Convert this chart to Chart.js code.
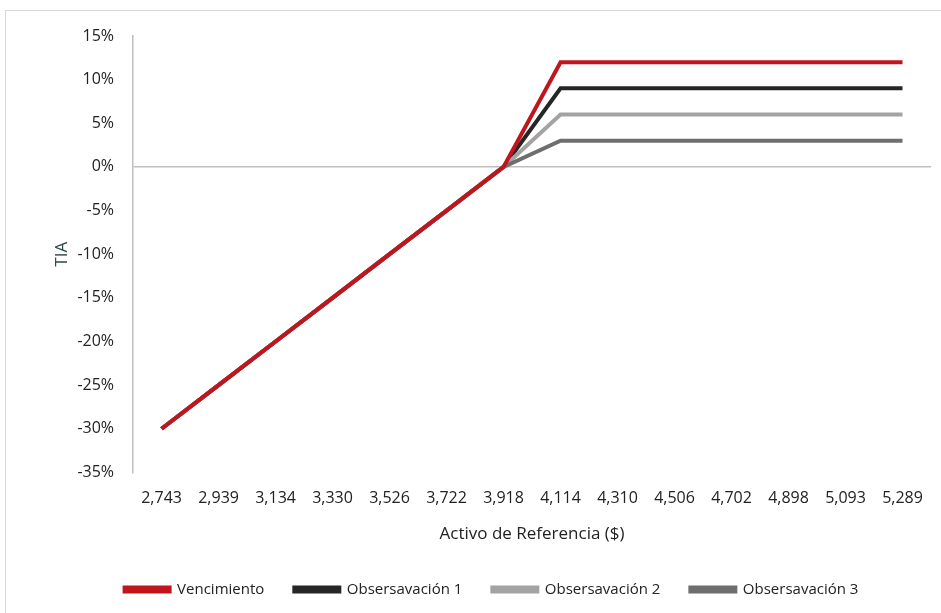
<!DOCTYPE html>
<html>
<head>
<meta charset="utf-8">
<script src="https://cdn.jsdelivr.net/npm/chart.js@4.4.0/dist/chart.umd.min.js"></script>
<style>
  html, body { margin: 0; padding: 0; background: #fff; }
  #wrap { position: relative; width: 941px; height: 613px; }
  #frame { position: absolute; left: 5px; top: 10px; width: 960px; height: 620px; border: 1px solid #d9d9d9; }
  canvas { position: absolute; left: 0; top: 0; }
</style>
</head>
<body>
<div id="wrap">
  <div id="frame"></div>
  <canvas id="chart" width="941" height="613"></canvas>
</div>
<script>
// Precio del activo de referencia (eje x)
const precios = ['2,743', '2,939', '3,134', '3,330', '3,526', '3,722', '3,918', '4,114', '4,310', '4,506', '4,702', '4,898', '5,093', '5,289'];

// TIA (%) por serie
const vencimiento   = [-30, -25, -20, -15, -10, -5, 0, 12, 12, 12, 12, 12, 12, 12];
const observacion1  = [-30, -25, -20, -15, -10, -5, 0, 9, 9, 9, 9, 9, 9, 9];
const observacion2  = [-30, -25, -20, -15, -10, -5, 0, 6, 6, 6, 6, 6, 6, 6];
const observacion3  = [-30, -25, -20, -15, -10, -5, 0, 3, 3, 3, 3, 3, 3, 3];

const yTicks = { min: -35, max: 15, step: 5 };

const fontFam = "'Open Sans', 'Noto Sans', sans-serif";

document.addEventListener('DOMContentLoaded', () => {
    const ctx = document.getElementById('chart').getContext('2d');
    const line = (label, data, color, order) => ({
        label: label,
        data: data,
        borderColor: color,
        backgroundColor: color,
        borderWidth: 4,
        pointRadius: 0,
        tension: 0,
        fill: false,
        order: order
    });

    new Chart(ctx, {
        type: 'line',
        data: {
            labels: precios,
            datasets: [
                line('Vencimiento', vencimiento, '#c0151c', 0),
                line('Obsersavación 1', observacion1, '#262626', 3),
                line('Obsersavación 2', observacion2, '#a3a3a3', 2),
                line('Obsersavación 3', observacion3, '#6e6e6e', 1)
            ]
        },
        options: {
            responsive: false,
            animation: false,
            layout: { padding: { left: 52, right: 10, top: 36, bottom: 6 } },
            plugins: {
                legend: {
                    position: 'bottom',
                    labels: {
                        boxWidth: 45,
                        boxHeight: 4,
                        padding: 30,
                        color: '#222',
                        font: { family: fontFam, size: 15 },
                        sort: (a, b) => a.datasetIndex - b.datasetIndex
                    }
                },
                tooltip: { enabled: false }
            },
            scales: {
                x: {
                    offset: true,
                    grid: { display: false, drawTicks: false },
                    border: { display: false },
                    ticks: {
                        color: '#222',
                        padding: 16,
                        maxRotation: 0,
                        autoSkip: false,
                        font: { family: fontFam, size: 16 }
                    },
                    title: {
                        display: true,
                        text: 'Activo de Referencia ($)',
                        color: '#222',
                        padding: { top: 0, bottom: 8 },
                        font: { family: fontFam, size: 17 }
                    }
                },
                y: {
                    min: yTicks.min,
                    max: yTicks.max,
                    afterFit: axis => { axis.width -= 14; },
                    grid: {
                        drawTicks: false,
                        color: c => c.tick.value === 0 ? '#bfbfbf' : 'transparent',
                        lineWidth: 1.5
                    },
                    border: { display: true, color: '#bfbfbf', width: 1.5 },
                    ticks: {
                        stepSize: yTicks.step,
                        padding: 19,
                        color: '#222',
                        font: { family: fontFam, size: 16 },
                        callback: v => v + '%'
                    },
                    title: {
                        display: true,
                        text: 'TIA',
                        color: '#2f4a47',
                        padding: { top: 0, bottom: 0 },
                        font: { family: fontFam, size: 17 }
                    }
                }
            }
        }
    });
});
</script>
</body>
</html>
